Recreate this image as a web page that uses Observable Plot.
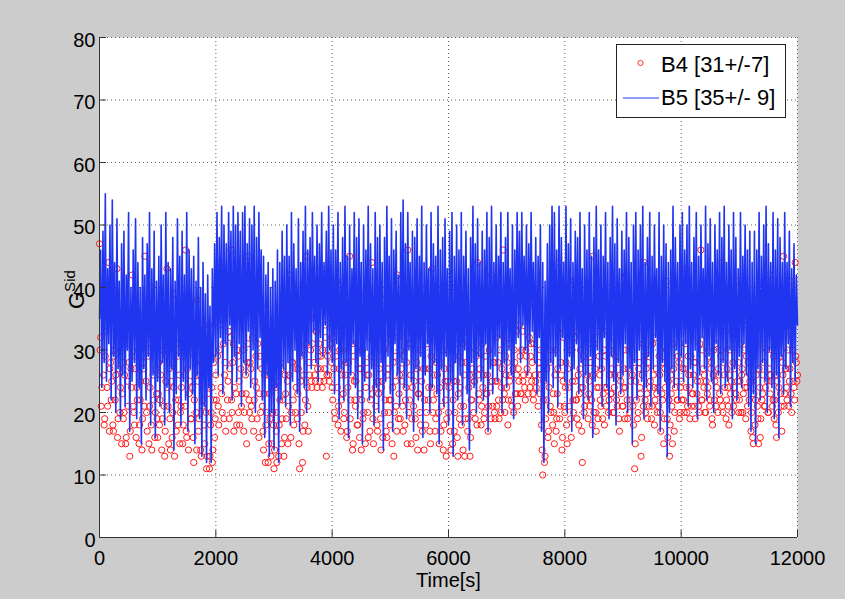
<!DOCTYPE html>
<html><head><meta charset="utf-8">
<script src="https://cdn.jsdelivr.net/npm/d3@7"></script>
<script src="https://cdn.jsdelivr.net/npm/@observablehq/plot@0.6"></script>
<style>
html,body{margin:0;padding:0;background:#cccccc;overflow:hidden;}
</style></head><body><div id="chart"></div>
<script>
// sample spacing of both series (s)
const timeStep = 20;

// B5 (blue line), one value every 20 s from 0 to 12000 s
const b5 = [
35,46,24,49,28,55,25,43,31,50,
22,54,29,44,20,51,27,41,19,47,
26,49,21,42,30,52,17,40,25,46,
28,51,19,44,24,40,15,48,27,42,
22,47,29,52,18,43,26,49,16,41,
25,45,21,50,28,42,18,52,24,44,
20,43,27,48,14,41,23,51,29,45,
18,49,25,42,22,52,17,46,27,43,
23,45,15,41,26,48,19,40,13,44,
21,39,12,42,24,37,12,43,28,47,
29,52,26,48,32,53,23,50,31,47,
27,52,34,49,22,53,29,50,25,52,
31,49,21,52,28,53,26,47,33,51,
24,50,30,53,20,48,27,52,32,46,
22,45,16,42,26,44,13,40,20,43,
14,41,24,46,12,44,22,49,27,45,
21,50,28,45,18,52,25,47,30,43,
23,51,17,44,29,49,24,53,20,46,
31,48,27,52,33,45,28,50,25,47,
32,52,29,44,34,49,26,53,30,46,
28,50,23,46,31,52,19,44,27,48,
22,53,28,45,16,50,26,43,31,52,
24,48,19,51,29,44,15,50,25,46,
30,53,22,47,27,43,18,52,24,48,
20,50,28,44,14,48,25,53,29,45,
23,51,17,46,31,49,26,42,21,52,
28,54,24,47,19,52,30,44,25,49,
17,48,27,51,22,45,29,53,16,44,
26,50,31,43,20,52,24,47,28,45,
23,53,15,46,27,48,21,51,29,43,
18,49,25,52,13,45,28,50,22,46,
26,52,18,45,30,49,23,43,14,48,
28,53,24,47,20,51,29,44,25,49,
22,46,31,52,17,48,27,53,23,44,
29,50,25,45,32,52,20,44,28,48,
24,52,30,43,26,50,19,46,31,52,
32,49,28,52,34,45,30,50,26,47,
31,52,33,44,28,48,23,45,32,50,
17,44,12,41,25,47,20,50,28,53,
24,52,29,46,21,53,27,48,32,44,
25,53,20,47,29,51,17,44,27,49,
31,48,23,52,28,43,19,50,26,46,
22,52,29,45,16,48,25,53,30,46,
27,50,21,45,32,52,24,44,19,48,
29,53,25,47,18,51,28,43,23,49,
26,46,31,52,20,48,27,44,15,50,
28,52,22,46,30,50,25,53,19,44,
24,48,29,52,21,45,27,50,32,43,
23,52,17,45,28,50,25,47,13,44,
20,46,27,53,24,48,30,44,22,50,
29,52,25,46,31,50,21,53,27,44,
24,48,30,52,19,45,26,50,32,43,
27,53,22,47,29,51,25,44,20,50,
31,46,26,52,23,48,28,53,24,44,
25,50,30,46,19,52,27,48,22,43,
29,52,24,45,31,50,26,46,21,49,
17,44,23,49,15,46,27,52,22,45,
28,50,25,53,20,47,30,44,24,52,
19,46,26,51,16,48,29,44,23,52,
27,44,31,49,21,43,28,47,25,42,
34
];

// B4 (red circles) at t = 0, 20, 40, ... 12000 s
const b4Even = [
47,32,24,40,18,29,36,21,44,27,
22,35,17,30,26,43,19,33,24,15,
28,20,38,16,25,31,13,27,42,21,
18,29,24,36,15,22,33,19,27,45,
25,17,31,21,40,14,26,34,20,23,
16,28,22,37,19,30,13,25,43,21,
27,14,33,20,24,39,17,29,22,15,
21,34,18,26,46,16,30,23,35,19,
24,12,29,20,38,17,26,14,31,22,
18,27,11,23,34,13,20,12,28,16,
26,38,21,30,44,23,35,19,28,41,
22,33,27,46,20,31,24,39,18,29,
25,42,21,30,17,36,23,28,45,20,
27,19,34,22,40,24,31,16,29,37,
21,14,26,18,33,12,23,28,15,20,
11,24,17,30,13,22,27,19,35,16,
23,31,15,26,42,20,28,18,34,24,
19,27,11,25,36,17,30,22,45,21,
28,35,25,31,40,26,33,24,29,37,
27,43,30,25,34,13,29,26,38,31,
24,32,20,29,41,18,27,35,22,30,
19,26,33,17,28,45,22,31,15,25,
21,37,18,27,23,14,30,20,39,24,
26,16,32,22,44,19,28,24,35,17,
23,29,14,25,38,20,31,16,27,22,
18,33,24,13,29,21,42,19,26,30,
25,17,36,22,28,46,20,31,15,24,
21,30,16,27,23,39,18,25,33,14,
27,20,34,24,17,29,43,22,26,19,
23,31,15,28,21,36,18,25,13,30,
20,27,14,33,22,17,40,25,13,29,
24,18,31,21,13,28,37,19,26,16,
22,34,25,19,29,44,23,27,18,31,
26,20,38,23,17,30,24,42,21,28,
19,32,25,22,35,20,27,46,23,29,
24,18,31,26,22,39,20,28,33,23,
27,34,23,30,25,41,22,29,36,26,
24,31,28,22,37,25,33,21,27,30,
18,10,25,13,22,33,17,28,20,36,
23,15,30,19,27,44,21,26,16,32,
20,28,15,24,35,19,30,22,41,25,
22,33,18,27,24,12,29,21,37,26,
19,25,31,22,45,20,27,17,33,24,
26,21,35,23,18,29,24,40,22,30,
23,32,20,26,38,21,28,17,25,34,
21,27,24,42,19,30,22,35,26,18,
11,25,33,20,28,23,16,31,44,22,
27,19,30,24,36,21,26,18,32,23,
24,29,20,34,22,15,27,41,19,25,
13,26,21,31,17,24,38,22,28,20,
25,33,22,27,43,20,29,24,35,21,
23,28,19,36,25,21,31,46,22,27,
26,20,32,24,39,22,28,18,30,25,
21,34,27,23,29,44,20,26,33,22,
24,18,30,25,37,21,27,23,41,28,
22,31,26,20,34,24,29,21,36,25,
17,25,15,29,22,38,19,27,16,31,
23,28,21,35,25,20,42,26,30,22,
19,26,16,31,24,37,21,28,45,23,
27,22,33,25,41,20,30,24,44,28,
26
];

// B4 (red circles) at t = 10, 30, 50, ... 11990 s
const b4Odd = [
30,21,38,26,19,33,24,41,17,28,
25,18,29,22,35,16,27,20,31,23,
19,26,15,33,21,28,17,24,36,20,
27,16,22,30,18,25,14,28,21,34,
20,29,15,24,18,32,22,16,27,19,
23,18,26,14,30,21,17,29,24,15,
19,25,16,28,13,22,31,18,26,20,
24,15,29,21,17,27,14,25,19,32,
16,22,28,14,25,19,33,13,21,27,
15,20,13,25,11,18,24,14,22,19,
22,29,18,34,24,20,31,26,17,36,
25,19,32,22,28,17,35,23,30,20,
18,27,23,38,20,26,15,31,22,28,
21,32,17,25,29,19,36,23,20,27,
17,23,12,20,26,15,19,13,24,18,
14,20,12,25,18,28,15,22,13,26,
19,25,21,33,16,28,22,37,20,27,
23,15,29,20,12,26,18,31,24,17,
26,30,24,36,28,25,33,27,31,25,
29,24,38,27,32,26,30,25,35,28,
22,27,19,33,24,21,30,17,26,23,
20,28,16,24,31,19,26,14,29,22,
25,18,30,16,27,22,19,33,15,28,
20,26,17,29,23,15,31,21,18,25,
27,19,24,16,30,22,17,26,20,35,
22,15,28,20,25,17,32,23,19,27,
21,29,18,24,15,31,22,26,19,33,
25,19,28,14,23,20,30,17,27,22,
18,31,22,27,15,24,20,33,17,28,
26,20,24,17,30,14,27,22,19,25,
24,17,28,15,25,20,31,16,23,19,
21,28,14,26,19,32,17,24,13,22,
27,20,25,30,18,26,22,35,21,24,
19,29,23,26,21,34,19,25,28,20,
25,21,28,19,30,24,22,32,20,26,
28,22,25,34,21,27,30,23,26,21,
25,29,23,33,26,24,30,27,23,32,
29,25,23,31,26,24,35,28,23,26,
14,22,12,19,27,16,24,21,30,18,
20,26,17,23,33,19,28,14,25,21,
24,18,27,21,30,16,25,20,32,22,
19,26,23,30,17,24,20,28,22,34,
23,21,28,18,26,31,20,24,19,29,
22,27,19,30,24,21,33,20,26,23,
27,20,24,29,22,32,19,26,23,21,
24,19,30,22,27,20,25,31,21,28,
15,22,19,27,24,13,26,21,29,20,
23,28,21,25,19,31,24,22,27,20,
21,26,17,23,28,19,24,30,16,22,
18,23,15,27,20,25,22,29,19,24,
22,27,20,31,24,21,26,19,29,23,
26,21,28,23,32,20,25,22,30,24,
20,25,23,29,21,27,19,26,22,31,
24,20,26,22,30,21,28,24,19,27,
21,26,23,20,28,24,31,22,25,20,
25,20,27,23,30,19,24,28,22,26,
20,16,23,18,26,21,15,24,19,22,
26,21,24,30,20,27,23,25,21,29,
22,18,25,20,29,23,17,26,21,27,
24,30,21,27,23,32,25,22,29,25
];

const xTicks = [0, 2000, 4000, 6000, 8000, 10000, 12000];
const yTicks = [0, 10, 20, 30, 40, 50, 60, 70, 80];
const seriesNames = ["B4 [31+/-7]", "B5 [35+/- 9]"];
const xLabel = "Time[s]";
const yLabelMain = "G";
const yLabelSup = "Sid";

const b5Data = b5.map((v, i) => ({t: i * timeStep, v}));
const b4Data = b4Even.map((v, i) => ({t: i * timeStep, v}))
  .concat(b4Odd.map((v, i) => ({t: i * timeStep + timeStep / 2, v})));

const W = 845, H = 599;
const mL = 99, mR = 48, mT = 37, mB = 62;
const innerW = W - mL - mR, innerH = H - mT - mB;
const tickLen = 7;
const font = "'Liberation Sans', Arial, Helvetica, sans-serif";
const blue = "#2035f0";
const red = "#ff1a1a";

const svg = Plot.plot({
  width: W, height: H,
  marginLeft: mL, marginRight: mR, marginTop: mT, marginBottom: mB,
  style: {background: "#cccccc", fontFamily: font, fontSize: "20px", color: "black", overflow: "visible"},
  x: {domain: [0, 12000], axis: null},
  y: {domain: [0, 80], axis: null},
  marks: [
    Plot.frame({fill: "white", stroke: "none"}),
    Plot.gridX(xTicks, {stroke: "#555", strokeOpacity: 0.9, strokeDasharray: "1,3"}),
    Plot.gridY(yTicks, {stroke: "#555", strokeOpacity: 0.9, strokeDasharray: "1,3"}),
    Plot.dot(b4Data, {x: "t", y: "v", r: 3.1, stroke: red, strokeWidth: 1, fill: "none"}),
    Plot.line(b5Data, {x: "t", y: "v", stroke: blue, strokeWidth: 1.6}),
    Plot.ruleX([0], {stroke: "#333", strokeWidth: 1}),
    Plot.ruleY([0], {stroke: "#333", strokeWidth: 1}),
    Plot.tickX(xTicks, {x: d => d, insetTop: innerH - tickLen, stroke: "#333"}),
    Plot.tickY(yTicks, {y: d => d, insetRight: innerW - tickLen, stroke: "#333"}),
    Plot.axisX(xTicks, {tickSize: 0, tickPadding: 13, label: null, fill: "black", tickFormat: d => String(d)}),
    Plot.axisY(yTicks, {tickSize: 0, tickPadding: 4, dy: 3, label: null, fill: "black", tickFormat: d => String(d)}),
    Plot.text([xLabel], {frameAnchor: "bottom", dy: 49, fontSize: 20, fill: "black"})
  ]
});

document.getElementById("chart").appendChild(svg);

const s = d3.select(svg);
// y-axis label with superscript
const yl = s.append("text")
  .attr("transform", "translate(84,309) rotate(-90)")
  .attr("font-size", 22).attr("fill", "black").attr("font-family", font)
  .attr("text-anchor", "start");
yl.append("tspan").text(yLabelMain);
yl.append("tspan").attr("font-size", 15).attr("dy", -9).text(yLabelSup);

// legend
const lg = s.append("g").attr("font-family", font).attr("text-anchor", "start");
lg.append("rect").attr("x", 616.5).attr("y", 44.5).attr("width", 169).attr("height", 73)
  .attr("fill", "white").attr("stroke", "#222").attr("stroke-width", 1);
lg.append("circle").attr("cx", 640.5).attr("cy", 63).attr("r", 2.6)
  .attr("fill", "none").attr("stroke", red).attr("stroke-width", 0.9);
lg.append("line").attr("x1", 623).attr("x2", 659).attr("y1", 98).attr("y2", 98)
  .attr("stroke", blue).attr("stroke-width", 1);
lg.append("text").attr("x", 661).attr("y", 71.5).attr("font-size", 22).attr("fill", "black").text(seriesNames[0]);
lg.append("text").attr("x", 661).attr("y", 105).attr("font-size", 22).attr("fill", "black").text(seriesNames[1]);
</script>
</body></html>
